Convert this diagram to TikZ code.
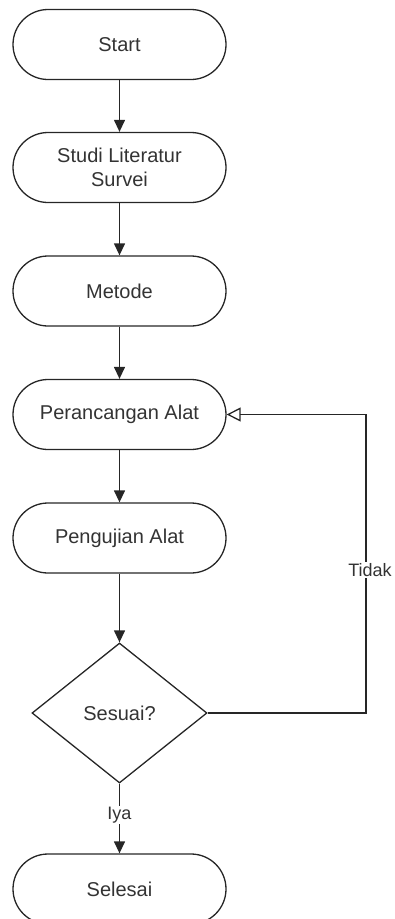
\documentclass[tikz,border=0pt]{standalone}
\usepackage{fontspec}
\setmainfont{Liberation Sans}
\usetikzlibrary{shapes.geometric,arrows.meta}

\tikzset{
  langkah/.style={draw=black!85,line width=1.3pt,rectangle,rounded corners=35pt,
    minimum width=213pt,minimum height=70pt,inner sep=0pt,align=center,
    text=black!80,font=\fontsize{20}{24}\selectfont},
  keputusan/.style={draw=black!85,line width=1.3pt,diamond,aspect=1.25,
    minimum width=175pt,minimum height=140pt,inner sep=0pt,
    text=black!80,font=\fontsize{20}{24}\selectfont},
  panah/.style={draw=black!85,line width=1.3pt,-{Triangle[length=12pt,width=11pt]}},
  label/.style={fill=white,inner sep=1pt,text=black!80,font=\fontsize{18}{22}\selectfont}
}

\begin{document}
\begin{tikzpicture}[x=1pt,y=-1pt]
		\useasboundingbox (0,0) rectangle (394,919);
		\node[langkah] (start) at (119.5,44.5) {Start};
		\node[langkah] (studi) at (119.5,167.5) {Studi Literatur\\Survei};
		\node[langkah] (metode) at (119.5,291) {Metode};
		\node[langkah] (rancang) at (119.5,414.5) {Perancangan Alat};
		\node[langkah] (uji) at (119.5,538) {Pengujian Alat};
		\node[keputusan] (sesuai) at (119.5,713) {Sesuai?};
		\node[langkah] (selesai) at (119.5,889) {Selesai};
		\coordinate (pojok) at (366,414.5);
		\path[panah] (start) -- (studi);
		\path[panah] (studi) -- (metode);
		\path[panah] (metode) -- (rancang);
		\path[panah] (rancang) -- (uji);
		\path[panah] (uji) -- (sesuai);
		\path[panah] (sesuai) -- (selesai);
		\draw[black!85,line width=1.3pt,-{Triangle[open,length=14pt,width=14pt]}]
			(sesuai.east) -| (pojok) -- (rancang.east);
		\node[label] (tidak) at (370,570) {Tidak};
		\node[label] (iya) at (119.5,815) {Iya};
	\end{tikzpicture}
\end{document}
